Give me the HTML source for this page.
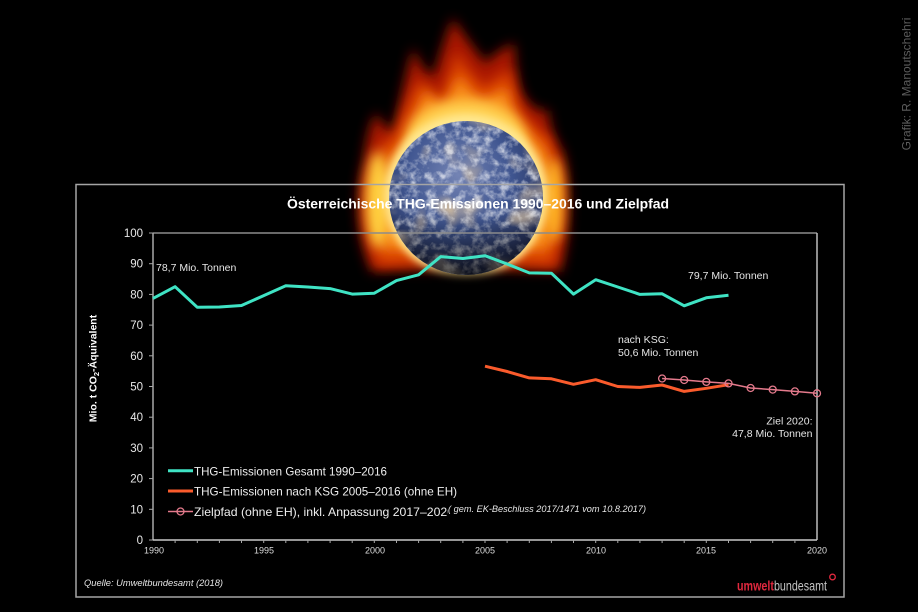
<!DOCTYPE html>
<html><head><meta charset="utf-8"><style>
html,body{margin:0;padding:0;background:#000;}
svg{display:block;}
text{font-family:"Liberation Sans",Arial,sans-serif;}
</style></head><body>
<svg width="918" height="612" viewBox="0 0 918 612" xmlns="http://www.w3.org/2000/svg">
<defs>
  <filter id="b10" x="-50%" y="-50%" width="200%" height="200%"><feGaussianBlur stdDeviation="9"/></filter>
  <filter id="b6" x="-50%" y="-50%" width="200%" height="200%"><feGaussianBlur stdDeviation="6"/></filter>
  <filter id="b4" x="-50%" y="-50%" width="200%" height="200%"><feGaussianBlur stdDeviation="4"/></filter>
  <filter id="clouds" x="0" y="0" width="100%" height="100%">
    <feTurbulence type="fractalNoise" baseFrequency="0.11" numOctaves="4" seed="7" result="n"/>
    <feColorMatrix in="n" type="matrix" values="0 0 0 0 1  0 0 0 0 1  0 0 0 0 1  2.8 0 0 0 -1.2" result="c"/>
    <feComposite in="c" in2="SourceGraphic" operator="in"/>
  </filter>
  <filter id="land" x="0" y="0" width="100%" height="100%">
    <feTurbulence type="fractalNoise" baseFrequency="0.035" numOctaves="2" seed="11" result="n"/>
    <feColorMatrix in="n" type="matrix" values="0 0 0 0 0.55  0 0 0 0 0.45  0 0 0 0 0.35  3 0 0 0 -1.6" result="c"/>
    <feComposite in="c" in2="SourceGraphic" operator="in"/>
  </filter>
  <radialGradient id="globeG" cx="0.45" cy="0.35" r="0.7">
    <stop offset="0" stop-color="#7484b4"/>
    <stop offset="0.5" stop-color="#3f5590"/>
    <stop offset="0.85" stop-color="#2a3660"/>
    <stop offset="1" stop-color="#1e2440"/>
  </radialGradient>
  <linearGradient id="fadeG" x1="0" y1="0" x2="0" y2="1">
    <stop offset="0.6" stop-color="#000" stop-opacity="0"/>
    <stop offset="1" stop-color="#000" stop-opacity="0.65"/>
  </linearGradient>
  <clipPath id="gc"><circle cx="466" cy="198" r="77"/></clipPath>
</defs>

<rect width="918" height="612" fill="#000"/>

<!-- fire -->
<path d="M372,272 C356,236 354,195 364,160 C366,140 370,125 376,113 C384,126 389,133 395,130 C398,108 405,80 413,48 C422,68 428,78 435,73 C440,53 447,34 453,18 C462,34 475,49 485,63 C495,53 505,48 514,43 C515,68 518,88 525,98 C532,108 540,113 548,110 C549,124 553,139 562,150 C571,180 572,232 560,272 Z" fill="#a81800" filter="url(#b6)"/>
<path d="M378,266 C364,230 362,195 372,168 C376,148 384,138 392,138 C400,118 410,98 420,78 C428,93 436,98 442,93 C448,78 452,63 457,52 C466,68 476,78 485,86 C494,78 504,72 511,70 C513,90 517,103 523,113 C533,126 543,133 550,138 C558,165 563,230 554,266 Z" fill="#d84000" filter="url(#b6)"/>
<path d="M385,250 C374,220 374,190 386,168 C392,152 402,140 410,135 C414,118 420,100 428,88 C434,102 440,108 446,104 C450,92 455,82 460,75 C468,88 476,96 484,100 C492,94 500,90 508,88 C510,104 514,116 520,124 C530,134 540,142 546,150 C552,172 554,220 548,250 Z" fill="#f88a18" filter="url(#b6)"/>
<ellipse cx="466" cy="140" rx="60" ry="40" fill="#ffd050" filter="url(#b6)"/>
<ellipse cx="378" cy="200" rx="12" ry="48" fill="#ffd040" filter="url(#b6)"/>
<ellipse cx="554" cy="200" rx="10" ry="42" fill="#ffb428" filter="url(#b6)"/>
<circle cx="466" cy="196" r="82" fill="#ffe890" filter="url(#b4)"/>
<ellipse cx="466" cy="292" rx="100" ry="18" fill="#000" filter="url(#b10)"/>

<!-- globe -->
<circle cx="466" cy="198" r="77" fill="url(#globeG)"/>
<g clip-path="url(#gc)">
  <rect x="389" y="121" width="154" height="154" fill="#fff" filter="url(#land)"/>
  <rect x="389" y="121" width="154" height="154" fill="#fff" filter="url(#clouds)" opacity="0.65"/>
  <circle cx="466" cy="198" r="77" fill="url(#fadeG)"/>
</g>

<!-- outer box -->
<rect x="76" y="184.5" width="768" height="412.5" fill="none" stroke="#a5a5a5" stroke-width="1.5"/>

<!-- title -->
<text x="478" y="208.5" font-size="13.5" font-weight="bold" fill="#fff" text-anchor="middle" textLength="382" lengthAdjust="spacingAndGlyphs">Österreichische THG-Emissionen 1990–2016 und Zielpfad</text>

<!-- plot frame -->
<line x1="153" y1="233" x2="817" y2="233" stroke="#8c8c8c" stroke-width="1.5"/>
<line x1="817" y1="233" x2="817" y2="540" stroke="#bdbdbd" stroke-width="1.5"/>
<line x1="153" y1="233" x2="153" y2="540" stroke="#a8a8a8" stroke-width="1.5"/>
<line x1="153" y1="540" x2="817" y2="540" stroke="#c8c8c8" stroke-width="1.5"/>

<!-- y ticks -->
<g stroke="#a8a8a8" stroke-width="1">
<line x1="149" y1="233" x2="153" y2="233"/><line x1="149" y1="263.7" x2="153" y2="263.7"/><line x1="149" y1="294.4" x2="153" y2="294.4"/><line x1="149" y1="325.1" x2="153" y2="325.1"/><line x1="149" y1="355.8" x2="153" y2="355.8"/><line x1="149" y1="386.5" x2="153" y2="386.5"/><line x1="149" y1="417.2" x2="153" y2="417.2"/><line x1="149" y1="447.9" x2="153" y2="447.9"/><line x1="149" y1="478.6" x2="153" y2="478.6"/><line x1="149" y1="509.3" x2="153" y2="509.3"/><line x1="149" y1="540" x2="153" y2="540"/>
</g>
<g font-size="11.5" fill="#e8e8e8" text-anchor="end">
<text x="143" y="237">100</text><text x="143" y="267.7">90</text><text x="143" y="298.4">80</text><text x="143" y="329.1">70</text><text x="143" y="359.8">60</text><text x="143" y="390.5">50</text><text x="143" y="421.2">40</text><text x="143" y="451.9">30</text><text x="143" y="482.6">20</text><text x="143" y="513.3">10</text><text x="143" y="544">0</text>
</g>

<!-- x ticks -->
<g stroke="#a8a8a8" stroke-width="1">
<line x1="175.1" y1="540" x2="175.1" y2="543"/><line x1="197.3" y1="540" x2="197.3" y2="543"/><line x1="219.4" y1="540" x2="219.4" y2="543"/><line x1="241.5" y1="540" x2="241.5" y2="543"/><line x1="263.7" y1="540" x2="263.7" y2="543"/><line x1="285.8" y1="540" x2="285.8" y2="543"/><line x1="307.9" y1="540" x2="307.9" y2="543"/><line x1="330.1" y1="540" x2="330.1" y2="543"/><line x1="352.2" y1="540" x2="352.2" y2="543"/><line x1="374.3" y1="540" x2="374.3" y2="543"/><line x1="396.5" y1="540" x2="396.5" y2="543"/><line x1="418.6" y1="540" x2="418.6" y2="543"/><line x1="440.7" y1="540" x2="440.7" y2="543"/><line x1="462.9" y1="540" x2="462.9" y2="543"/><line x1="485" y1="540" x2="485" y2="543"/><line x1="507.1" y1="540" x2="507.1" y2="543"/><line x1="529.3" y1="540" x2="529.3" y2="543"/><line x1="551.4" y1="540" x2="551.4" y2="543"/><line x1="573.5" y1="540" x2="573.5" y2="543"/><line x1="595.7" y1="540" x2="595.7" y2="543"/><line x1="617.8" y1="540" x2="617.8" y2="543"/><line x1="639.9" y1="540" x2="639.9" y2="543"/><line x1="662.1" y1="540" x2="662.1" y2="543"/><line x1="684.2" y1="540" x2="684.2" y2="543"/><line x1="706.3" y1="540" x2="706.3" y2="543"/><line x1="728.5" y1="540" x2="728.5" y2="543"/><line x1="750.6" y1="540" x2="750.6" y2="543"/><line x1="772.7" y1="540" x2="772.7" y2="543"/><line x1="794.9" y1="540" x2="794.9" y2="543"/>
</g>
<g font-size="9" fill="#dcdcdc" text-anchor="middle">
<text x="154" y="553.5">1990</text><text x="264" y="553.5">1995</text><text x="375" y="553.5">2000</text><text x="485" y="553.5">2005</text><text x="596" y="553.5">2010</text><text x="706" y="553.5">2015</text><text x="817" y="553.5">2020</text>
</g>

<!-- y label -->
<text transform="translate(96.5,368.5) rotate(-90)" font-size="10.5" font-weight="bold" fill="#fff" text-anchor="middle">Mio. t CO<tspan font-size="7.5" dy="2.5">2</tspan><tspan dy="-2.5">-Äquivalent</tspan></text>

<!-- series -->
<polyline fill="none" stroke="#3fe3c4" stroke-width="3" stroke-linejoin="round" points="153,298.4 175.1,286.7 197.3,307.3 219.4,307 241.5,305.5 263.7,295.6 285.8,285.8 307.9,287 330.1,288.6 352.2,294.1 374.3,293.2 396.5,280.6 418.6,274.8 440.7,256.6 462.9,258.5 485,255.7 507.1,264 529.3,272.9 551.4,273.2 573.5,294.1 595.7,279.7 617.8,287 639.9,294.4 662.1,293.8 684.2,305.8 706.3,297.8 728.5,295.3"/>
<polyline fill="none" stroke="#fa5b2c" stroke-width="3" stroke-linejoin="round" points="485,366.2 507.1,371.5 529.3,377.9 551.4,378.8 573.5,384.3 595.7,379.7 617.8,386.5 639.9,387.4 662.1,385 684.2,391.4 706.3,388.3 728.5,384.7"/>
<polyline fill="none" stroke="#e47a8c" stroke-width="1.5" points="662.1,378.5 684.2,380 706.3,381.9 728.5,383.4 750.6,388 772.7,389.6 794.9,391.4 817,393.3"/>
<g fill="none" stroke="#e47a8c" stroke-width="1.3">
<circle cx="662.1" cy="378.5" r="3.5"/><circle cx="684.2" cy="380" r="3.5"/><circle cx="706.3" cy="381.9" r="3.5"/><circle cx="728.5" cy="383.4" r="3.5"/><circle cx="750.6" cy="388" r="3.5"/><circle cx="772.7" cy="389.6" r="3.5"/><circle cx="794.9" cy="391.4" r="3.5"/><circle cx="817" cy="393.3" r="3.5"/>
</g>

<!-- annotations -->
<g font-size="10.5" fill="#e6e6e6">
<text x="156" y="271">78,7 Mio. Tonnen</text>
<text x="688" y="279">79,7 Mio. Tonnen</text>
<text x="618" y="343">nach KSG:</text>
<text x="618" y="356">50,6 Mio. Tonnen</text>
<text x="812.5" y="424.5" text-anchor="end">Ziel 2020:</text>
<text x="812.5" y="437" text-anchor="end">47,8 Mio. Tonnen</text>
</g>

<!-- legend -->
<line x1="168" y1="470.7" x2="193" y2="470.7" stroke="#3fe3c4" stroke-width="3"/>
<line x1="168" y1="491" x2="193" y2="491" stroke="#fa5b2c" stroke-width="3"/>
<line x1="168" y1="511.5" x2="193" y2="511.5" stroke="#e47a8c" stroke-width="1.5"/>
<circle cx="180.5" cy="511.5" r="3.5" fill="none" stroke="#e47a8c" stroke-width="1.3"/>
<g font-size="12" fill="#eeeeee">
<text x="194" y="475.3" textLength="193" lengthAdjust="spacingAndGlyphs">THG-Emissionen Gesamt 1990–2016</text>
<text x="194" y="495.7" textLength="263" lengthAdjust="spacingAndGlyphs">THG-Emissionen nach KSG 2005–2016 (ohne EH)</text>
<text x="194" y="516" textLength="260" lengthAdjust="spacingAndGlyphs">Zielpfad (ohne EH), inkl. Anpassung 2017–2020</text>
</g>
<rect x="448" y="500" width="200" height="18" fill="#000"/>
<text x="448" y="512" font-size="9.2" font-style="italic" fill="#e6e6e6" textLength="198" lengthAdjust="spacingAndGlyphs">( gem. EK-Beschluss 2017/1471 vom 10.8.2017)</text>

<!-- source -->
<text x="84" y="586" font-size="9.3" font-style="italic" fill="#e6e6e6" textLength="139" lengthAdjust="spacingAndGlyphs">Quelle: Umweltbundesamt (2018)</text>

<!-- logo -->
<text x="737" y="590.7" font-size="14" textLength="90" lengthAdjust="spacingAndGlyphs"><tspan fill="#e0283e" font-weight="bold">umwelt</tspan><tspan fill="#c4c4c4">bundesamt</tspan></text>
<circle cx="832.5" cy="577" r="2.8" fill="none" stroke="#e0283e" stroke-width="1.3"/>

<!-- credit -->
<text transform="translate(910.5,84) rotate(-90)" font-size="12" fill="#5c5c5c" text-anchor="middle">Grafik: R. Manoutschehri</text>
</svg>
</body></html>
